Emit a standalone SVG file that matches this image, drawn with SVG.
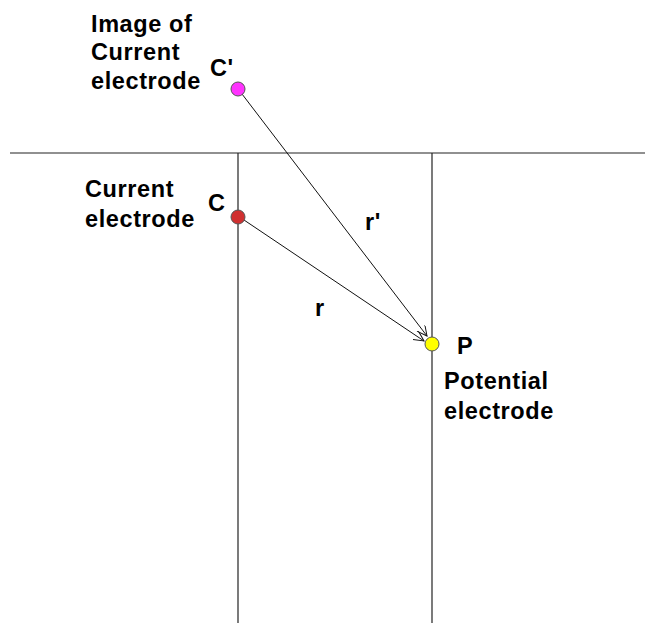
<svg xmlns="http://www.w3.org/2000/svg" width="645" height="623" viewBox="0 0 645 623">
<style>
.ln{stroke:#222;stroke-width:1.2;fill:none}
.ar{stroke:#111;stroke-width:1;fill:none}
.t{font-family:"Liberation Sans",Arial,sans-serif;font-size:23.5px;letter-spacing:0.6px;fill:#000;font-weight:bold}
.pt{stroke:#555;stroke-width:1}
</style>
<defs>
<marker id="ah" markerWidth="12" markerHeight="12" refX="10" refY="5" orient="auto" markerUnits="userSpaceOnUse">
<path d="M0,0 L10,5 L0,10" fill="none" stroke="#111" stroke-width="1"/>
</marker>
</defs>
<rect width="645" height="623" fill="#fff"/>
<g id="ground">
<line class="ln" x1="10" y1="153" x2="645" y2="153"/>
<line class="ln" x1="238" y1="153" x2="238" y2="623"/>
<line class="ln" x1="432" y1="153" x2="432" y2="623"/>
</g>
<g id="connectors">
<line class="ar" x1="242" y1="94" x2="427" y2="336" marker-end="url(#ah)"/>
<line class="ar" x1="244" y1="220" x2="424" y2="341" marker-end="url(#ah)"/>
<text class="t" x="365" y="230">r'</text>
<text class="t" x="315" y="316">r</text>
</g>
<g id="image-electrode">
<circle class="pt" cx="238" cy="89" r="7" fill="#ff33ff"/>
<text class="t" x="91" y="32">Image of</text>
<text class="t" x="91" y="60">Current</text>
<text class="t" x="91" y="89">electrode</text>
<text class="t" x="210" y="76">C'</text>
</g>
<g id="current-electrode">
<circle class="pt" cx="238" cy="217" r="7" fill="#d03030"/>
<text class="t" x="85" y="197">Current</text>
<text class="t" x="85" y="227">electrode</text>
<text class="t" x="208" y="211">C</text>
</g>
<g id="potential-electrode">
<circle class="pt" cx="432" cy="344" r="7" fill="#ffff00"/>
<text class="t" x="457" y="354">P</text>
<text class="t" x="444" y="389">Potential</text>
<text class="t" x="444" y="419">electrode</text>
</g>
</svg>
